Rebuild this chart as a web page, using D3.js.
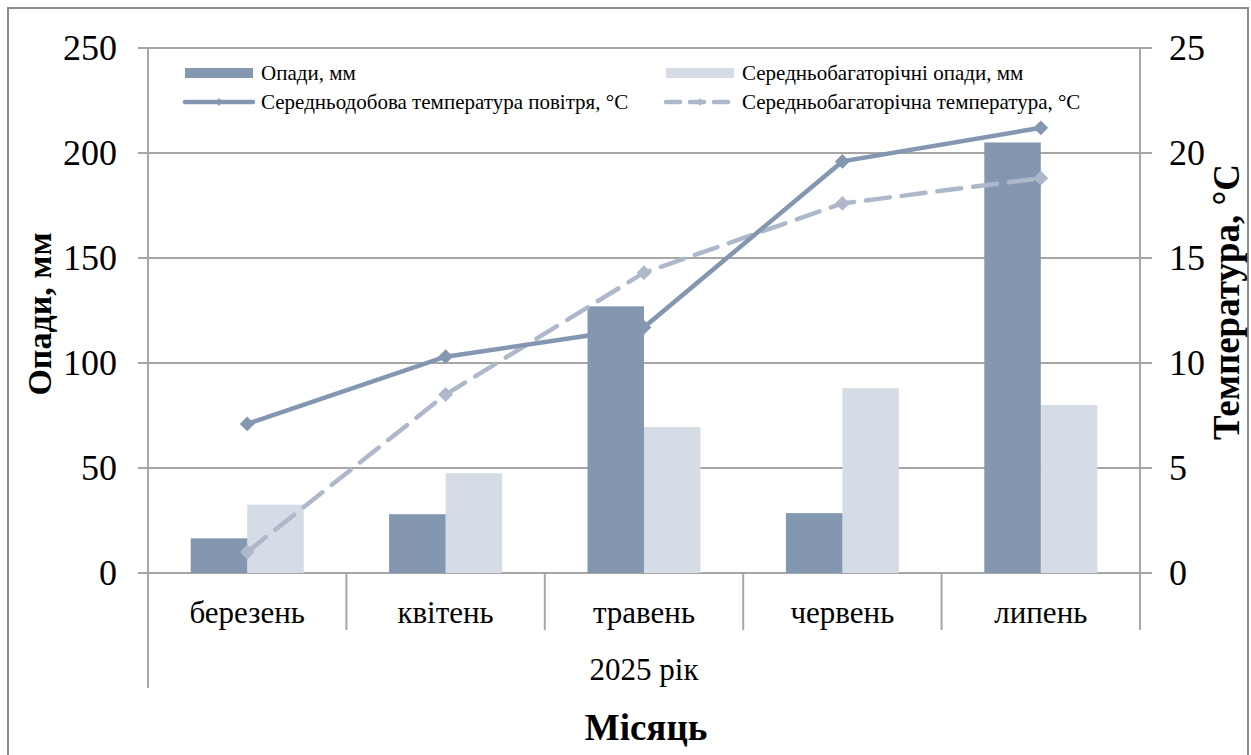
<!DOCTYPE html>
<html><head><meta charset="utf-8">
<script src="https://cdn.jsdelivr.net/npm/d3@7"></script>
<style>body{margin:0;background:#fff}svg{display:block}text{font-family:"Liberation Serif","Times New Roman",serif}</style>
</head><body>
<script>
const categories = ["березень","квітень","травень","червень","липень"];
const groupLabel = "2025 рік";
const precip = [16.5, 28, 127, 28.5, 205];
const precipNorm = [32.5, 47.5, 69.5, 88, 80];
const temp = [7.1, 10.3, 11.7, 19.6, 21.2];
const tempNorm = [1.0, 8.5, 14.3, 17.6, 18.8];
const leftTicks = [0,50,100,150,200,250];
const rightTicks = [0,5,10,15,20,25];
const seriesNames = ["Опади, мм","Середньобагаторічні опади, мм","Середньодобова температура повітря, °C","Середньобагаторічна температура, °C"];

const W=1251,H=755;
const svg=d3.select("body").append("svg").attr("width",W).attr("height",H);
svg.append("rect").attr("x",8).attr("y",8).attr("width",1240).attr("height",760).attr("fill","#fff").attr("stroke","#8c8c8c").attr("stroke-width",2);

const L=148,R=1140,T=48,B=573;
const x=d3.scaleBand().domain(categories).range([L,R]).paddingInner(0).paddingOuter(0);
const yL=d3.scaleLinear().domain([0,250]).range([B,T]);
const yR=d3.scaleLinear().domain([0,25]).range([B,T]);
const grid="#a6a6a6";

// gridlines
svg.append("g").selectAll("line").data(leftTicks).join("line")
 .attr("x1",L-10).attr("x2",R).attr("y1",d=>yL(d)).attr("y2",d=>yL(d)).attr("stroke",grid).attr("stroke-width",2);
// left axis line
svg.append("line").attr("x1",L).attr("x2",L).attr("y1",T).attr("y2",688).attr("stroke",grid).attr("stroke-width",2);
// right axis
svg.append("line").attr("x1",R).attr("x2",R).attr("y1",T).attr("y2",B).attr("stroke",grid).attr("stroke-width",2);
svg.append("g").selectAll("line").data(rightTicks).join("line")
 .attr("x1",R).attr("x2",R+12).attr("y1",d=>yR(d)).attr("y2",d=>yR(d)).attr("stroke",grid).attr("stroke-width",2);
// category separators
svg.append("g").selectAll("line").data(categories).join("line")
 .attr("x1",(d,i)=>x(d)+x.bandwidth()).attr("x2",(d,i)=>x(d)+x.bandwidth())
 .attr("y1",B).attr("y2",630).attr("stroke",grid).attr("stroke-width",2);

// tick labels
svg.append("g").selectAll("text").data(leftTicks).join("text")
 .attr("x",117).attr("y",d=>yL(d)+12).attr("text-anchor","end").attr("font-size",36).text(d=>d);
svg.append("g").selectAll("text").data(rightTicks).join("text")
 .attr("x",1169).attr("y",d=>yR(d)+12).attr("text-anchor","start").attr("font-size",36).text(d=>d);

// bars
const bw=56.5;
const dark="#8497b0", light="#d6dce5", dashC="#adb9ca";
svg.append("g").selectAll("rect").data(precipNorm).join("rect")
 .attr("x",(d,i)=>x(categories[i])+x.bandwidth()/2).attr("width",bw)
 .attr("y",d=>yL(d)).attr("height",d=>B-yL(d)).attr("fill",light);
svg.append("g").selectAll("rect").data(precip).join("rect")
 .attr("x",(d,i)=>x(categories[i])+x.bandwidth()/2-bw).attr("width",bw)
 .attr("y",d=>yL(d)).attr("height",d=>B-yL(d)).attr("fill",dark);

const cx=i=>x(categories[i])+x.bandwidth()/2;
const line=d3.line().x((d,i)=>cx(i)).y(d=>yR(d));
// dashed
svg.append("path").datum(tempNorm).attr("d",line).attr("fill","none").attr("stroke",dashC).attr("stroke-width",4.5).attr("stroke-dasharray","24,12").attr("stroke-linecap","round");
svg.append("g").selectAll("path").data(tempNorm).join("path")
 .attr("d",d3.symbol().type(d3.symbolSquare).size(110)).attr("transform",(d,i)=>`translate(${cx(i)},${yR(d)}) rotate(45)`).attr("fill",dashC);
// solid
svg.append("path").datum(temp).attr("d",line).attr("fill","none").attr("stroke",dark).attr("stroke-width",4.5);
svg.append("g").selectAll("path").data(temp).join("path")
 .attr("d",d3.symbol().type(d3.symbolSquare).size(110)).attr("transform",(d,i)=>`translate(${cx(i)},${yR(d)}) rotate(45)`).attr("fill",dark);

// category labels
svg.append("g").selectAll("text").data(categories).join("text")
 .attr("x",(d,i)=>cx(i)).attr("y",623).attr("text-anchor","middle").attr("font-size",31).text(d=>d);
svg.append("text").attr("x",(L+R)/2).attr("y",680).attr("text-anchor","middle").attr("font-size",31).text(groupLabel);
svg.append("text").attr("x",(L+R)/2+2).attr("y",740).attr("text-anchor","middle").attr("font-size",37).attr("font-weight","bold").text("Місяць");
svg.append("text").attr("transform","translate(51,314) rotate(-90)").attr("text-anchor","middle").attr("font-size",34).attr("font-weight","bold").text("Опади, мм");
svg.append("text").attr("transform","translate(1239,302) rotate(-90)").attr("text-anchor","middle").attr("font-size",37).attr("font-weight","bold").text("Температура, °С");

// legend
const lg=svg.append("g");
const items=[
 {x:185,y:73,type:"bar",c:dark,t:seriesNames[0]},
 {x:666,y:73,type:"bar",c:light,t:seriesNames[1]},
 {x:185,y:102,type:"line",c:dark,t:seriesNames[2]},
 {x:666,y:102,type:"dash",c:dashC,t:seriesNames[3]}];
items.forEach(it=>{
  if(it.type==="bar") lg.append("rect").attr("x",it.x).attr("y",it.y-5).attr("width",68).attr("height",10).attr("fill",it.c);
  else {
    lg.append("line").attr("x1",it.x).attr("x2",it.x+68).attr("y1",it.y).attr("y2",it.y).attr("stroke",it.c).attr("stroke-width",4.5)
      .attr("stroke-dasharray",it.type==="dash"?"14,10":null).attr("stroke-linecap","round");
    lg.append("path").attr("d",d3.symbol().type(d3.symbolSquare).size(30)).attr("transform",`translate(${it.x+34},${it.y}) rotate(45)`).attr("fill",it.c);
  }
  lg.append("text").attr("x",it.x+76).attr("y",it.y+7).attr("font-size",21).text(it.t);
});
</script>
</body></html>
